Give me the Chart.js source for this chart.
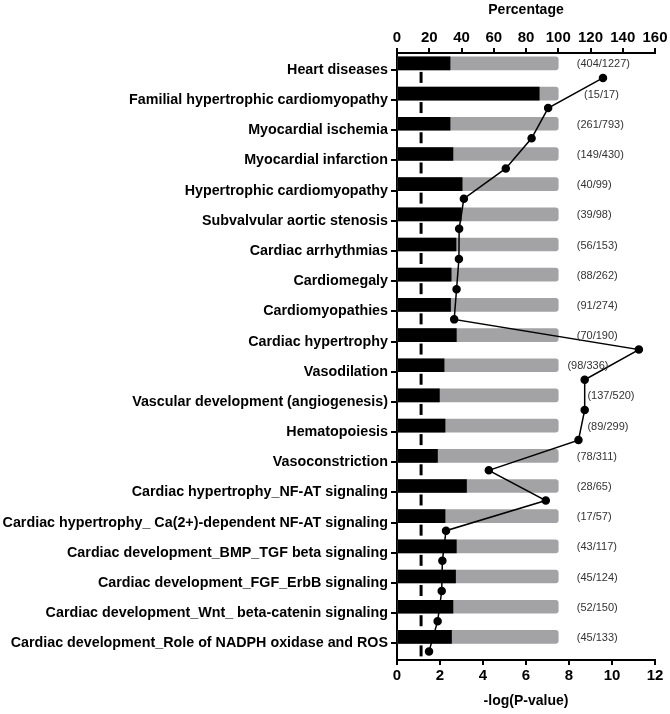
<!DOCTYPE html>
<html>
<head>
<meta charset="utf-8">
<script src="https://cdn.jsdelivr.net/npm/chart.js@4/dist/chart.umd.min.js"></script>
<style>
  html, body { margin: 0; padding: 0; background: #fff; }
  #wrap { width: 670px; height: 714px; }
</style>
</head>
<body>
<div id="wrap"><canvas id="chart" width="670" height="714"></canvas></div>
<script>
const categories = [
	"Heart diseases",
	"Familial hypertrophic cardiomyopathy",
	"Myocardial ischemia",
	"Myocardial infarction",
	"Hypertrophic cardiomyopathy",
	"Subvalvular aortic stenosis",
	"Cardiac arrhythmias",
	"Cardiomegaly",
	"Cardiomyopathies",
	"Cardiac hypertrophy",
	"Vasodilation",
	"Vascular development (angiogenesis)",
	"Hematopoiesis",
	"Vasoconstriction",
	"Cardiac hypertrophy_NF-AT signaling",
	"Cardiac hypertrophy_ Ca(2+)-dependent NF-AT signaling",
	"Cardiac development_BMP_TGF beta signaling",
	"Cardiac development_FGF_ErbB signaling",
	"Cardiac development_Wnt_ beta-catenin signaling",
	"Cardiac development_Role of NADPH oxidase and ROS",
];
const percentage = [32.9, 88.2, 32.9, 34.7, 40.4, 39.8, 36.6, 33.6, 33.2, 36.8,
	29.2, 26.3, 29.8, 25.1, 43.1, 29.8, 36.8, 36.3, 34.7, 33.8];
const fullPct = [100, 100, 100, 100, 100, 100, 100, 100, 100, 100,
	100, 100, 100, 100, 100, 100, 100, 100, 100, 100];
const logP = [9.58, 7.03, 6.26, 5.06, 3.11, 2.89, 2.88, 2.77, 2.66, 11.25,
	8.73, 8.73, 8.44, 4.27, 6.92, 2.28, 2.11, 2.08, 1.89, 1.49];
const hits = [404, 15, 261, 149, 40, 39, 56, 88, 91, 70, 98, 137, 89, 78, 28, 17, 43, 45, 52, 45];
const totals = [1227, 17, 793, 430, 99, 98, 153, 262, 274, 190, 336, 520, 299, 311, 65, 57, 117, 124, 150, 133];
const pctTicks = [0, 20, 40, 60, 80, 100, 120, 140, 160];
const logTicks = [0, 2, 4, 6, 8, 10, 12];
const cutoff = 1.12;

const FONT = "'Liberation Sans', Arial, sans-serif";

// dashed cutoff line, one dash in each gap between rows
const cutoffLine = {
	id: "cutoffLine",
	beforeDatasetsDraw(chart) {
		const ctx = chart.ctx;
		const x = chart.scales.x.getPixelForValue(cutoff);
		const y = chart.scales.y;
		ctx.save();
		ctx.strokeStyle = "#000";
		ctx.lineWidth = 3;
		categories.forEach((c, i) => {
			const py = y.getPixelForValue(i);
			ctx.beginPath();
			ctx.moveTo(x, py + 2);
			ctx.lineTo(x, py + 13);
			ctx.stroke();
		});
		ctx.restore();
	},
};

// "(hits/total)" text right of the bars
const countLabels = {
	id: "countLabels",
	afterDatasetsDraw(chart) {
		const ctx = chart.ctx;
		const xs = chart.scales.xt;
		const yb = chart.scales.yb;
		const nudge = { 1: 4.5, 10: -5.8, 11: 6.6, 12: 6.6 };
		ctx.save();
		ctx.font = "11px " + FONT;
		ctx.fillStyle = "#333";
		ctx.textAlign = "left";
		ctx.textBaseline = "middle";
		hits.forEach((h, i) => {
			const px = xs.getPixelForValue(111.5 + (nudge[i] || 0));
			const py = yb.getPixelForValue(i) + 1;
			ctx.fillText("(" + h + "/" + totals[i] + ")", px, py);
		});
		ctx.restore();
	},
};

const axisCommon = {
	grid: { drawOnChartArea: false, tickLength: 5, color: "#000", lineWidth: 2 },
	border: { color: "#000", width: 2 },
};

new Chart(document.getElementById("chart"), {
	type: "bar",
	data: {
		datasets: [
			{
				type: "line",
				label: "-log(P-value)",
				data: logP.map((v, i) => ({ x: v, y: i })),
				xAxisID: "x",
				yAxisID: "yp",
				borderColor: "#000",
				backgroundColor: "#000",
				borderWidth: 1.5,
				pointRadius: 3.5,
				pointBackgroundColor: "#000",
				tension: 0,
				order: 0,
			},
			{
				label: "Percentage",
				data: percentage.map((v, i) => ({ x: v, y: i })),
				xAxisID: "xt",
				yAxisID: "yb",
				backgroundColor: "#000",
				barThickness: 13,
				grouped: false,
				order: 1,
			},
			{
				label: "Total",
				data: fullPct.map((v, i) => ({ x: v, y: i })),
				xAxisID: "xt",
				yAxisID: "yb",
				backgroundColor: "#a3a3a5",
				borderRadius: 3,
				borderSkipped: "start",
				barThickness: 13,
				grouped: false,
				order: 2,
			},
		],
	},
	options: {
		indexAxis: "y",
		responsive: false,
		animation: false,
		layout: { padding: { left: 0, right: 15, top: 0, bottom: 0 } },
		plugins: { legend: { display: false }, tooltip: { enabled: false } },
		scales: {
			xt: {
				...axisCommon,
				type: "linear",
				position: "top",
				min: 0,
				max: 160,
				stacked: false,
				afterBuildTicks: (s) => { s.ticks = pctTicks.map((v) => ({ value: v })); },
				afterFit: (s) => { s.height = 53; },
				ticks: { color: "#000", padding: 1, font: { family: FONT, size: 15, weight: "bold" } },
				title: {
					display: true,
					text: "Percentage",
					color: "#000",
					padding: { top: 2, bottom: 0 },
					font: { family: FONT, size: 14, weight: "bold" },
				},
			},
			x: {
				...axisCommon,
				type: "linear",
				position: "bottom",
				min: 0,
				max: 12,
				afterBuildTicks: (s) => { s.ticks = logTicks.map((v) => ({ value: v })); },
				afterFit: (s) => { s.height = 54; },
				ticks: { color: "#000", padding: 2, font: { family: FONT, size: 15, weight: "bold" } },
				title: {
					display: true,
					text: "-log(P-value)",
					color: "#000",
					padding: { top: 0, bottom: 4 },
					font: { family: FONT, size: 14, weight: "bold" },
				},
			},
			y: {
				type: "linear",
				position: "left",
				reverse: true,
				offset: false,
				min: -0.56,
				max: 19.55,
				border: { color: "#000", width: 2 },
				grid: { drawOnChartArea: false, offset: false, tickLength: 6, color: "#000", lineWidth: 2 },
				afterBuildTicks: (s) => { s.ticks = categories.map((c, i) => ({ value: i })); },
				afterFit: (s) => { s.width = 397; },
				ticks: {
					color: "#000",
					padding: 3,
					font: { family: FONT, size: 14.3, weight: "bold" },
					callback: (v) => categories[v],
				},
			},
			yb: { type: "linear", display: false, offset: false, grid: { offset: false }, reverse: true, min: -0.345, max: 19.765 },
			yp: { type: "linear", display: false, offset: false, grid: { offset: false }, reverse: true, min: -0.825, max: 19.285 },
		},
	},
	plugins: [cutoffLine, countLabels],
});
</script>
</body>
</html>
